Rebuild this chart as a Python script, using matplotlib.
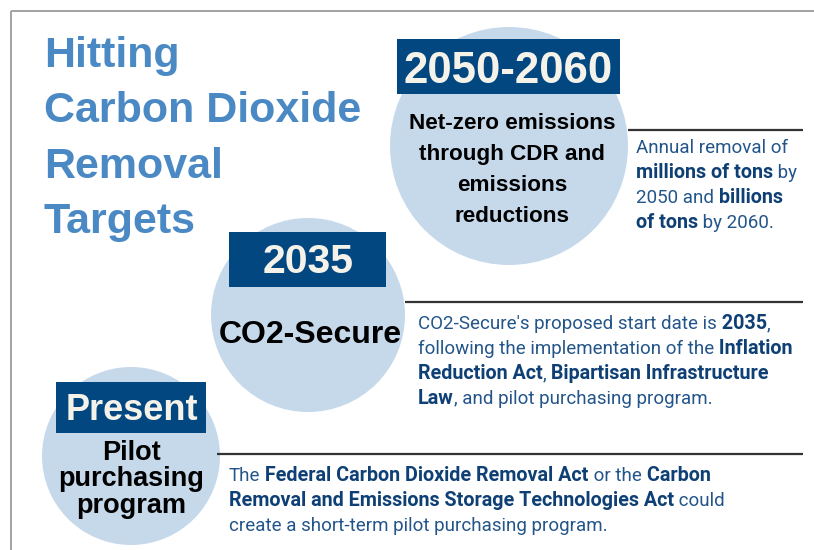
import matplotlib
matplotlib.use("Agg")
import matplotlib.pyplot as plt
from matplotlib.patches import Circle, Rectangle

# timeline stages, from the bottom-left circle to the top-right one
title_lines = ["Hitting", "Carbon Dioxide", "Removal", "Targets"]
years = ["Present", "2035", "2050-2060"]
goals = ["Pilot\npurchasing\nprogram",
         "CO2-Secure",
         "Net-zero emissions\nthrough CDR and\nemissions\nreductions"]
# each note is a list of lines, each line a list of (text, bold) runs
notes = [
    [[("The", 0), (" Federal Carbon Dioxide Removal Act", 1), (" or the", 0), (" Carbon", 1)],
     [("Removal and Emissions Storage Technologies Act", 1), (" could", 0)],
     [("create a short-term pilot purchasing program.", 0)]],
    [[("CO2-Secure's proposed start date is", 0), (" 2035", 1), (",", 0)],
     [("following the implementation of the", 0), (" Inflation", 1)],
     [("Reduction Act", 1), (",", 0), (" Bipartisan Infrastructure", 1)],
     [("Law", 1), (", and pilot purchasing program.", 0)]],
    [[("Annual removal of", 0)],
     [("millions of tons", 1), (" by", 0)],
     [("2050 and", 0), (" billions", 1)],
     [("of tons", 1), (" by 2060.", 0)]],
]

# layout (pixel coordinates, y going down)
circle_xy = [(131, 456), (308, 315), (509, 146)]
circle_r = [89, 97, 119]
box_ext = [(56, 382, 150, 51), (229, 232, 157, 55), (397, 39, 223, 55)]
year_x = [131.5, 308, 508]
year_base = [420, 273, 83]
year_size = [26, 29.5, 31.5]
goal_x = [131, 310, 512]
goal_base = [460, 343, 129]
goal_step = [26.5, 0, 31]
goal_size = [19.5, 23, 16.2]
rule_y = [454, 302, 130]
rule_x0 = [217, 405, 628]
note_x = [229, 418, 636]
note_base = [481, 329, 153]
note_step = 25

circle_col = "#c6d9eb"
box_col = "#034781"
title_col = "#4a89c4"
note_col = "#23558a"
note_bold_col = "#0f4075"
head_font = "Liberation Sans"
body_font = "Roboto"

fig = plt.figure(figsize=(8.14, 5.5), dpi=100)
ax = fig.add_axes([0, 0, 1, 1])
ax.set_xlim(0, 814)
ax.set_ylim(550, 0)
ax.axis("off")

# frame lines on the top and left
ax.plot([11, 814], [10.5, 10.5], color="#9c9c9c", lw=1.3, solid_capstyle="butt")
ax.plot([11, 11], [10.5, 550], color="#9c9c9c", lw=1.3, solid_capstyle="butt")

for i, line in enumerate(title_lines):
    ax.text(44, 67 + i * 55.5, line, fontsize=31, fontweight="bold",
            family=head_font, color=title_col, va="baseline", ha="left")

for i in range(len(years)):
    ax.add_patch(Circle(circle_xy[i], circle_r[i], color=circle_col, lw=0, zorder=1))
    x0, y0, w, h = box_ext[i]
    ax.add_patch(Rectangle((x0, y0), w, h, color=box_col, lw=0, zorder=2))
    ax.text(year_x[i], year_base[i], years[i], fontsize=year_size[i], fontweight="bold",
            family=head_font, color="#f5f2ea", ha="center", va="baseline", zorder=3)
    for j, g in enumerate(goals[i].split("\n")):
        ax.text(goal_x[i], goal_base[i] + j * goal_step[i], g, fontsize=goal_size[i],
                fontweight="bold", family=head_font, color="black",
                ha="center", va="baseline", zorder=3)
    ax.plot([rule_x0[i], 803], [rule_y[i], rule_y[i]], color="#333333", lw=1.6,
            solid_capstyle="butt", zorder=2)

    # mixed bold/regular runs, each one chained to the right of the last
    for j, runs in enumerate(notes[i]):
        y = note_base[i] + j * note_step
        prev = None
        for text, bold in runs:
            kw = dict(fontsize=14.2 if bold else 13.5, family=body_font,
                      fontweight="bold" if bold else "normal",
                      color=note_bold_col if bold else note_col)
            if prev is None:
                prev = ax.text(note_x[i], y, text, va="baseline", ha="left", **kw)
            else:
                prev = ax.annotate(text, xy=(1, 0), xycoords=prev, va="bottom",
                                   ha="left", **kw)

fig.savefig("out.png", dpi=100)
